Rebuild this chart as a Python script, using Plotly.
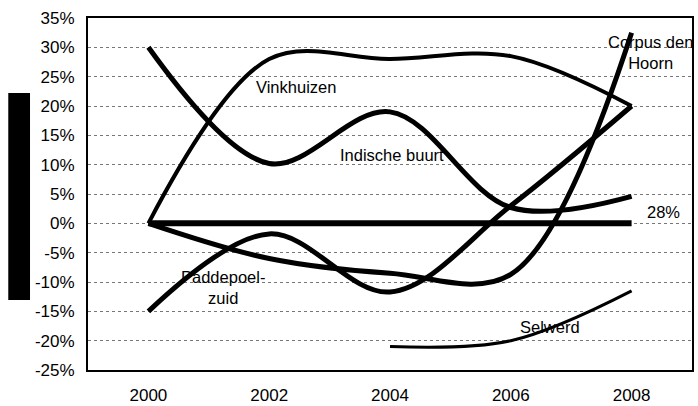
import plotly.graph_objects as go

years = [2000, 2002, 2004, 2006, 2008]
vinkhuizen = [0, 28, 28, 28.5, 20]
indische_buurt = [30, 10.2, 19, 2.7, 4.6]
paddepoel_zuid = [-15, -1.8, -11.7, 3, 20]
corpus_den_hoorn = [0, -6, -8.5, -8.7, 32.5]
selwerd_years = [2004, 2006, 2008]
selwerd = [-21, -20, -11.5]
total_years = [2000, 2008]
total = [0, 0]

y_ticks = list(range(-25, 40, 5))
x_ticks = [2000, 2002, 2004, 2006, 2008]

FONT = "Liberation Sans, Arial, sans-serif"

fig = go.Figure()

def add_line(x, y, width):
    fig.add_trace(go.Scatter(
        x=x, y=y, mode="lines",
        line=dict(color="black", width=width, shape="spline", smoothing=1.0),
        showlegend=False, hoverinfo="skip"))

add_line(years, vinkhuizen, 4)
add_line(years, indische_buurt, 5)
add_line(years, paddepoel_zuid, 5)
add_line(years, corpus_den_hoorn, 5)
add_line(selwerd_years, selwerd, 3)
add_line(total_years, total, 6)

labels = [
    ("Vinkhuizen", 2001.74, 23.2, "left"),
    ("Indische buurt", 2003.14, 11.6, "left"),
    ("Corpus den<br>Hoorn", 2008.31, 29.2, "center"),
    ("Paddepoel-<br>zuid", 2001.23, -10.9, "center"),
    ("Selwerd", 2006.65, -17.7, "center"),
    ("28%", 2008.53, 1.9, "center"),
]
for text, x, y, anchor in labels:
    fig.add_annotation(x=x, y=y, text=text, showarrow=False, xanchor=anchor,
                       yanchor="middle", align="center",
                       font=dict(family=FONT, size=16.5, color="black"))

fig.add_shape(type="rect", xref="paper", yref="paper",
              x0=-0.132, x1=-0.096, y0=0.199, y1=0.787,
              fillcolor="black", line=dict(width=0))

fig.update_xaxes(range=[1999, 2009], tickvals=x_ticks, ticktext=[str(v) for v in x_ticks],
                 showgrid=False, zeroline=False, showline=True, linecolor="black",
                 linewidth=2, mirror=True, ticks="", ticklen=0, automargin=False,
                 ticklabelstandoff=9,
                 tickfont=dict(family=FONT, size=17, color="black"))
fig.update_yaxes(range=[-25, 35], tickvals=y_ticks, ticktext=[f"{v}%" for v in y_ticks],
                 showgrid=True, gridcolor="#777", griddash="dot", gridwidth=1,
                 zeroline=False, showline=True, linecolor="black", linewidth=2,
                 mirror=True, ticks="", ticklen=0, automargin=False,
                 ticklabelstandoff=8,
                 tickfont=dict(family=FONT, size=17, color="black"))

fig.update_layout(template="none", width=698, height=406,
                  plot_bgcolor="white", paper_bgcolor="white",
                  margin=dict(l=88, r=6, t=18, b=36, pad=0), showlegend=False)

fig.write_html("out.html", config={"displayModeBar": False},
               post_script="document.body.style.margin='0';document.body.style.overflow='hidden';")
